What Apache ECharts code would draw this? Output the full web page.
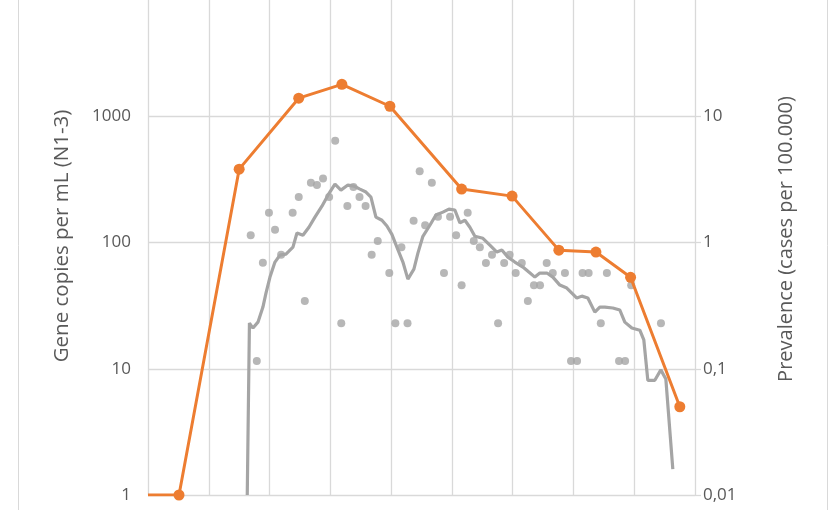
<!DOCTYPE html>
<html>
<head>
<meta charset="utf-8">
<script src="https://cdn.jsdelivr.net/npm/echarts@6/dist/echarts.min.js"></script>
<style>
html,body{margin:0;padding:0;background:#fff;overflow:hidden;}
#c{width:830px;height:530px;margin-top:-20px;}
</style>
</head>
<body>
<div id="c"></div>
<script>
// Gene copies per mL (daily samples): x = day, y = copies/mL
const sampleDays = [16.9,17.9,18.9,19.9,20.9,21.9,23.8,24.8,25.8,26.8,27.8,28.8,29.8,30.8,31.8,32.8,33.8,34.8,35.8,36.8,37.8,39.7,40.7,41.7,42.7,43.7,44.7,45.6,46.7,47.7,48.7,49.7,50.7,51.6,52.6,53.6,54.6,55.6,56.6,57.6,58.6,59.5,60.5,61.5,62.5,63.5,64.5,65.6,66.6,68.6,69.6,70.6,71.5,72.5,74.5,75.5,77.5,78.5,79.5,84.4];
const sampleCopies = [114,11.5,69,172,126,80,172,229,34.4,298,286,321,229,641,22.9,195,275,229,195,80,103,57.3,22.9,91.6,22.9,149,366,137,298,160,57.3,160,114,45.8,172,103,91.6,68.7,80,22.9,68.7,80,57.3,68.7,34.4,45.8,45.8,68.7,57.3,57.3,11.5,11.5,57.3,57.3,22.9,57.3,11.5,11.5,45.8,22.9];

// Moving average of gene copies
const avgDays = [16.33,16.69,17.27,18.09,18.91,19.41,20.07,20.89,21.71,22.70,23.19,23.85,24.51,25.49,26.48,27.47,28.62,29.61,30.76,31.74,32.89,33.88,34.87,35.86,36.68,37.50,38.49,39.31,40.13,40.95,41.94,42.76,43.75,44.41,45.23,46.38,47.37,48.52,49.51,50.49,51.32,52.14,52.96,53.78,55.10,56.25,57.40,58.22,59.21,60.36,61.68,62.66,63.65,64.47,65.63,66.61,67.76,68.91,69.74,70.56,71.38,72.37,73.52,74.34,75.16,76.48,77.63,78.45,79.61,80.92,81.58,82.24,83.39,84.38,85.20,86.35];
const avgCopies = [1,23.0,21.0,23.4,30.8,39.7,53.2,70.0,79.5,81.0,85.5,92.0,119,114,132,159,194,237,290,260,285,280,265,251,229,159,150,135,116,92,70,51.3,61.5,82.4,112,137,165,174,184,181,143,150,132,112,108,95.3,84.0,87.1,76.6,70,63.9,58.3,53.2,57.3,57.3,53.2,46.0,43.6,39.7,36.3,37.6,36.3,28.1,30.8,30.8,30.3,29.2,23.4,21.0,20.2,16.9,8.1,8.1,9.8,8.3,1.6];

// Prevalence (cases per 100.000)
const prevDays = [0,5.1,15.0,24.8,31.9,39.8,51.6,59.9,67.6,73.7,79.4,87.5];
const prevValues = [0.01,0.01,3.81,13.9,17.9,12.0,2.65,2.33,0.87,0.84,0.53,0.050];

const leftTicks = ['1','10','100','1000','10000'];
const rightTicks = ['0,01','0,1','1','10','100'];

const FONT = 'Open Sans';
const TXT = '#595959';
const GRID = '#d9d9d9';
const GRAY = '#a5a5a5';
const ORANGE = '#ed7d31';
const OFF = 20; // div is shifted up by this amount

const chart = echarts.init(document.getElementById('c'), null, {renderer:'canvas'});

const samplePts = sampleDays.map((d,i)=>[d, sampleCopies[i]]);
const avgPts = avgDays.map((d,i)=>[d, avgCopies[i]]);
const prevPts = prevDays.map((d,i)=> i===0 ? {value:[d, prevValues[i]], symbol:'none'} : [d, prevValues[i]]);

function lbl(list, shift){
  return function(v){
    const idx = Math.round(Math.log10(v)) + shift;
    return list[idx] !== undefined ? list[idx] : '';
  };
}

chart.setOption({
  animation:false,
  backgroundColor:'#fff',
  grid:{left:148, right:135, top:10, bottom:15, containLabel:false},
  xAxis:{
    type:'value', min:0, max:90, interval:10,
    axisLabel:{show:false}, axisTick:{show:false}, axisLine:{show:false},
    splitLine:{show:true, lineStyle:{color:GRID, width:1.3}}
  },
  yAxis:[
    {
      type:'log', logBase:10, min:1, max:10000, position:'left',
      axisLine:{show:false}, axisTick:{show:false},
      axisLabel:{formatter:lbl(leftTicks,0), color:TXT, fontFamily:FONT, fontSize:17, margin:17},
      splitLine:{show:true, lineStyle:{color:GRID, width:1.3}}
    },
    {
      type:'log', logBase:10, min:0.01, max:100, position:'right',
      axisLine:{show:false},
      axisTick:{show:true, length:6, lineStyle:{color:GRID, width:1.3}},
      axisLabel:{formatter:lbl(rightTicks,2), color:TXT, fontFamily:FONT, fontSize:17, margin:8},
      splitLine:{show:false}
    }
  ],
  graphic:[
    {type:'rect', shape:{x:18.5, y:0, width:809, height:540}, style:{fill:'none', stroke:GRID, lineWidth:1}, silent:true, z:-1},
    {type:'text', x:62, y:236+OFF, rotation:Math.PI/2, style:{text:'Gene copies per mL (N1-3)', fill:TXT, font:'20.5px "Open Sans"', align:'center', verticalAlign:'middle'}},
    {type:'text', x:786, y:239+OFF, rotation:Math.PI/2, style:{text:'Prevalence (cases per 100.000)', fill:TXT, font:'20px "Open Sans"', align:'center', verticalAlign:'middle'}}
  ],
  series:[
    {type:'scatter', yAxisIndex:0, data:samplePts, symbol:'circle', symbolSize:8, itemStyle:{color:GRAY}, z:2},
    {type:'line', yAxisIndex:0, data:avgPts, showSymbol:false, symbol:'none', lineStyle:{color:GRAY, width:3.2}, z:3},
    {type:'line', yAxisIndex:1, data:prevPts, symbol:'circle', symbolSize:11, itemStyle:{color:ORANGE}, lineStyle:{color:ORANGE, width:3}, z:4}
  ]
});
</script>
</body>
</html>
